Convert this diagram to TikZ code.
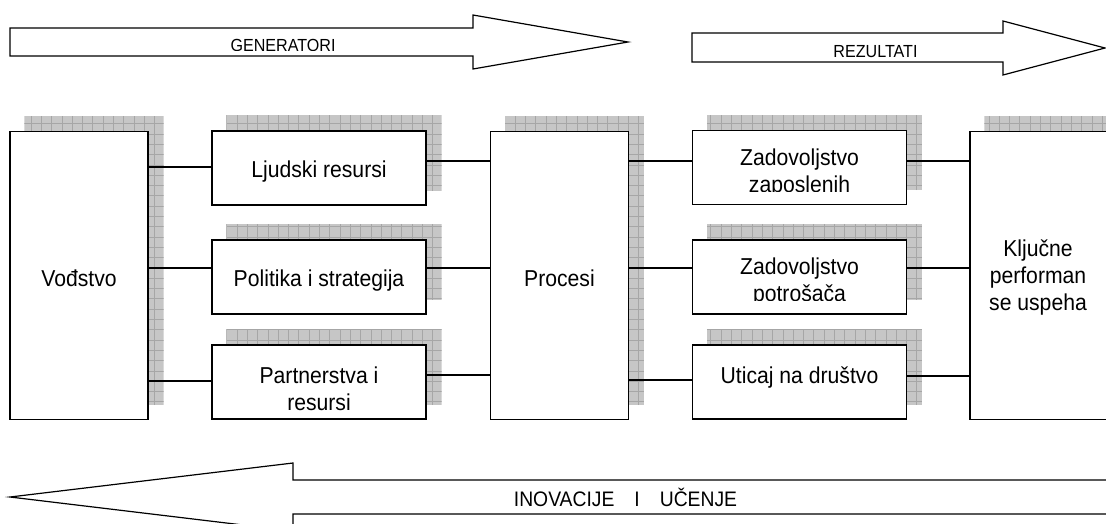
\documentclass[tikz,border=0pt]{standalone}
\usepackage{fontspec}
\setmainfont{Liberation Sans}[FakeStretch=0.92]
\usetikzlibrary{backgrounds}
\newcommand\bxfont{\fontsize{23}{27}\selectfont}
\newcommand\arfont{\fontsize{17.5}{20}\selectfont}
\newcommand\infont{\fontsize{21}{24}\selectfont}
\begin{document}
\begin{tikzpicture}[x=1pt,y=-1pt,
  outline/.style={draw=black,line width=1.2pt,fill=white,inner sep=0pt},
  bigbox/.style={outline,minimum width=138pt,minimum height=288pt},
  smallbox/.style={outline,minimum width=214pt,minimum height=74pt},
  lbl/.style={font=\bxfont,inner sep=0pt,anchor=base},
  albl/.style={font=\arfont,inner sep=0pt,anchor=base},
  conn/.style={draw=black,line width=1.2pt},
  blockarrow/.style={draw=black,line width=1.2pt,line join=miter,fill=white},
  shadowfill/.style={fill=gray!45},
  shadowgrid/.style={draw=gray!70,line width=0.6pt}
]
\useasboundingbox (0,0) rectangle (1106,523);

% block arrows along the top and bottom
\path[blockarrow] (10,28) -- (473,28) -- (473,15) -- (628,42) -- (473,69) -- (473,56) -- (10,56) -- cycle;
\path[blockarrow] (692,33) -- (1003,33) -- (1003,21) -- (1105,48) -- (1003,75) -- (1003,62) -- (692,62) -- cycle;
\path[blockarrow] (1112,480) -- (293,480) -- (293,463) -- (10,497) -- (293,531) -- (293,514) -- (1112,514);

\begin{scope}
  \clip (10,28) rectangle (473,50.3);
  \node[albl] (gen) at (283,51) {GENERATORI};
\end{scope}
\node[albl] (rez) at (875.5,57.3) {REZULTATI};
\node[font=\infont,inner sep=0pt,anchor=base] (inov) at (625.5,506) {INOVACIJE\hspace{20pt}I\hspace{20pt}UČENJE};

% boxes
\node[bigbox] (vod) at (79,275.5) {};
\node[bigbox] (proc) at (559.5,275.5) {};
\node[bigbox] (klj) at (1039,275.5) {};
\node[smallbox] (lj) at (319,168) {};
\node[smallbox] (pol) at (319,277) {};
\node[smallbox] (par) at (319,382) {};
\node[smallbox] (z1) at (799.5,167.5) {};
\node[smallbox] (z2) at (799.5,277) {};
\node[smallbox] (ut) at (799.5,382) {};

% box texts
\node[lbl] (vodt) at (vod |- 0,286) {Vođstvo};
\node[lbl] (proct) at (proc |- 0,286) {Procesi};
\node[lbl] (kljt) at (1038,256.7) {\begin{tabular}[t]{@{}c@{}}Ključne\\performan\\se uspeha\end{tabular}};
\node[lbl] (ljt) at (lj |- 0,177) {Ljudski resursi};
\node[lbl] (polt) at (pol |- 0,286) {Politika i strategija};
\node[lbl] (part) at (par |- 0,383) {\begin{tabular}[t]{@{}c@{}}Partnerstva i\\resursi\end{tabular}};
\begin{scope}
  \clip (z1.north west) rectangle (906,191.6);
  \node[lbl] (z1t) at (z1 |- 0,165) {\begin{tabular}[t]{@{}c@{}}Zadovoljstvo\\zaposlenih\end{tabular}};
\end{scope}
\begin{scope}
  \clip (z2.north west) rectangle (906,300.6);
  \node[lbl] (z2t) at (z2 |- 0,274) {\begin{tabular}[t]{@{}c@{}}Zadovoljstvo\\potrošača\end{tabular}};
\end{scope}
\node[lbl] (utt) at (ut |- 0,383) {Uticaj na društvo};

% connectors
\draw[conn] (vod.east |- 0,167) -- (lj.west |- 0,167);
\draw[conn] (lj.east |- 0,161) -- (proc.west |- 0,161);
\draw[conn] (proc.east |- 0,161) -- (z1.west |- 0,161);
\draw[conn] (z1.east |- 0,161) -- (klj.west |- 0,161);
\draw[conn] (vod.east |- 0,268) -- (pol.west |- 0,268);
\draw[conn] (pol.east |- 0,268) -- (proc.west |- 0,268);
\draw[conn] (proc.east |- 0,268) -- (z2.west |- 0,268);
\draw[conn] (z2.east |- 0,268) -- (klj.west |- 0,268);
\draw[conn] (vod.east |- 0,381) -- (par.west |- 0,381);
\draw[conn] (par.east |- 0,375) -- (proc.west |- 0,375);
\draw[conn] (proc.east |- 0,380) -- (ut.west |- 0,380);
\draw[conn] (ut.east |- 0,376) -- (klj.west |- 0,376);

% hatched drop shadows behind the boxes
\begin{scope}[on background layer]
  \foreach \n in {vod,proc,klj,lj,pol,par,z1,z2,ut}{
    \begin{scope}
      \clip ([shift={(15,-15)}]\n.south west) rectangle ([shift={(15,-15)}]\n.north east);
      \path[shadowfill] ([shift={(15,-15)}]\n.south west) rectangle ([shift={(15,-15)}]\n.north east);
      \draw[shadowgrid,step=10.3pt] ([shift={(15,-15)}]\n.south west) grid ([shift={(15,-15)}]\n.north east);
    \end{scope}
  }
\end{scope}
\end{tikzpicture}
\end{document}
